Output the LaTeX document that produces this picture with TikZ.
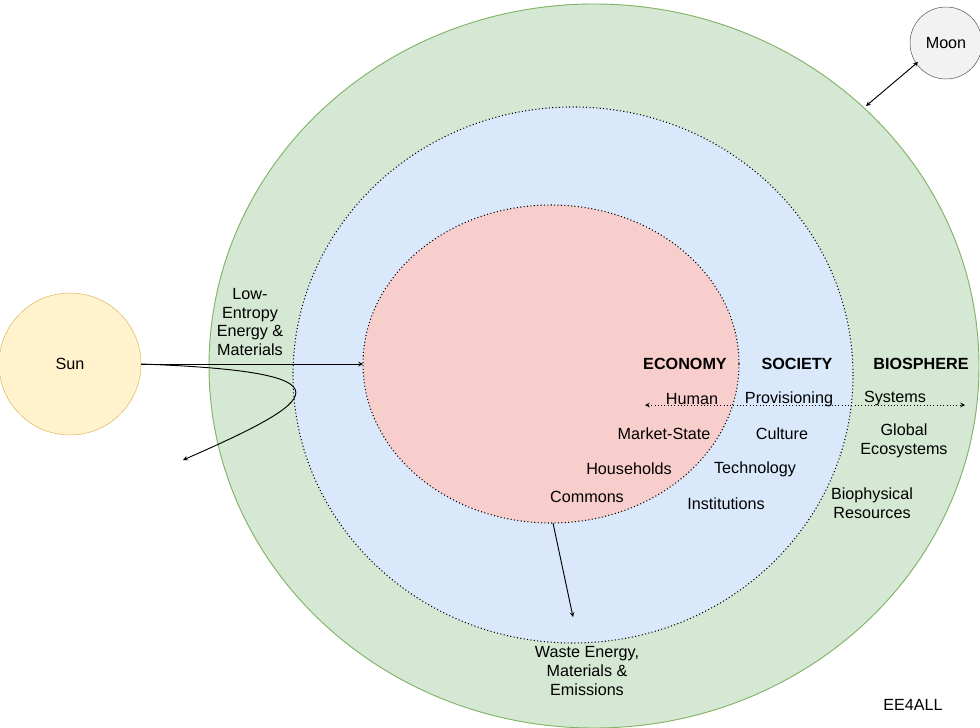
\documentclass[tikz,border=0pt]{standalone}
\usepackage{fontspec}
\setmainfont{Liberation Sans}
\begin{document}
\begin{tikzpicture}[x=0.03cm,y=-0.03cm,
  lbl/.style={font=\fontsize{13.8}{16}\selectfont,align=center,inner sep=1pt},
  bold/.style={lbl,font=\fontsize{13.8}{16}\selectfont\bfseries},
  arr/.style={->,>=stealth,line width=0.8pt}]
\useasboundingbox (0,0) rectangle (980,728);
\fill[fill={rgb,255:red,213;green,232;blue,212},draw={rgb,255:red,130;green,179;blue,102},line width=0.8pt] (594,366) ellipse [x radius=385,y radius=362];
\fill[fill={rgb,255:red,218;green,232;blue,252}] (573,375) ellipse [x radius=280,y radius=268];
\draw[dotted,line width=0.9pt] (573,375) ellipse [x radius=280,y radius=268];
\fill[fill={rgb,255:red,248;green,206;blue,204}] (551,364) ellipse [x radius=188,y radius=159];
\draw[dotted,line width=0.9pt] (551,364) ellipse [x radius=188,y radius=159];
\node[circle,draw={rgb,255:red,214;green,182;blue,86},fill={rgb,255:red,255;green,242;blue,204},minimum size=142*0.03cm,lbl] (sun) at (70,364) {Sun};
\node[circle,draw=black!70,fill=black!5,minimum size=72*0.03cm,lbl] (moon) at (946,43) {Moon};
\coordinate (econL) at (363,364);
\coordinate (sunR) at (141,364);
\coordinate (deflect) at (183,460);
\draw[arr] (sunR) -- (econL);
\draw[arr] (sunR) .. controls (360,372) and (320,400) .. (deflect);
\coordinate (m1) at (866,106);
\coordinate (m2) at (918,62);
\draw[arr,<->] (m1) -- (m2);
\coordinate (w1) at (553,523);
\coordinate (w2) at (573,617);
\draw[arr] (w1) -- (w2);
\coordinate (d1) at (645,405);
\coordinate (d2) at (965,405);
\draw[arr,<->,dotted] (d1) -- (d2);
\node[lbl] (le) at (250,322) {Low-\\Entropy\\Energy \&\\Materials};
\node[bold] (econ) at (685,364) {ECONOMY};
\node[bold] (soc) at (797,364) {SOCIETY};
\node[bold] (biol) at (921,364) {BIOSPHERE};
\node[lbl] at (692,399) {Human};
\node[lbl] at (789,399) {Provisioning};
\node[lbl] at (895,399) {Systems};
\node[lbl] at (664,434) {Market-State};
\node[lbl] at (629,469) {Households};
\node[lbl] at (587,497) {Commons};
\node[lbl] at (782,434) {Culture};
\node[lbl] at (755,469) {Technology};
\node[lbl] at (726,504) {Institutions};
\node[lbl] at (904,441) {Global\\Ecosystems};
\node[lbl] at (872,503) {Biophysical\\Resources};
\node[lbl] at (587,671) {Waste Energy,\\Materials \&\\Emissions};
\node[lbl] at (913,705) {EE4ALL};
\end{tikzpicture}
\end{document}
